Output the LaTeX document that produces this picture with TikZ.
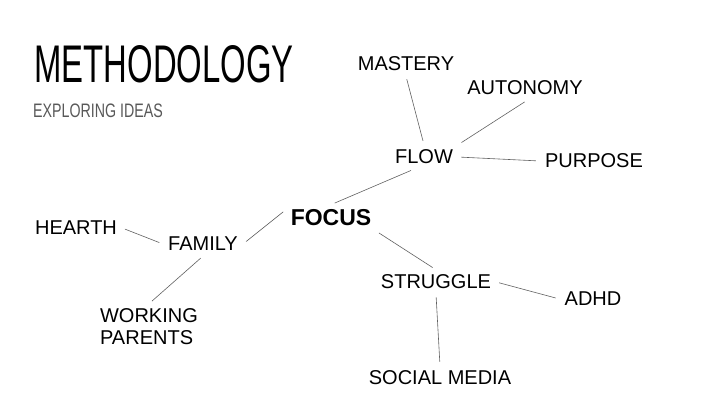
\documentclass[tikz,border=0pt]{standalone}
\usepackage{fontspec}
\setmainfont{Liberation Sans}
\usetikzlibrary{positioning}
\tikzstyle{idea} = [inner sep=5pt, font=\fontsize{20}{22}\selectfont, text=black]
\tikzstyle{core} = [inner sep=5pt, font=\fontsize{23}{26}\selectfont\bfseries, text=black]
\tikzstyle{heading} = [inner sep=0pt, font=\fontsize{53}{56}\selectfont, xscale=0.62]
\tikzstyle{subheading} = [inner sep=0pt, font=\fontsize{19.5}{22}\selectfont, text=black!65, xscale=0.73]
\tikzstyle{link} = [draw=black!62, line width=0.6pt, shorten <=3pt, shorten >=4pt]

\begin{document}
\begin{tikzpicture}[x=1pt, y=-1pt]
\useasboundingbox[fill=white] (0,0) rectangle (720,405);

\node (title) [heading] at (164,64) {METHODOLOGY};
\node (subtitle) [subheading] at (98,111) {EXPLORING IDEAS};

\node (focus) [core] at (331,218) {FOCUS};

\node (flow) [idea] at (424,157) {FLOW};
\node (mastery) [idea] at (406,64) {MASTERY};
\node (autonomy) [idea] at (525,88) {AUTONOMY};
\node (purpose) [idea] at (594,161) {PURPOSE};

\node (family) [idea] at (203,244) {FAMILY};
\node (hearth) [idea] at (76,228) {HEARTH};
\node (working) [idea, align=left] at (149,327) {WORKING\\PARENTS};

\node (struggle) [idea] at (436,282) {STRUGGLE};
\node (adhd) [idea] at (593,299) {ADHD};
\node (social) [idea] at (440,378) {SOCIAL MEDIA};

\draw [link] (mastery.south) -- (flow.north);
\draw [link] (autonomy.-80) -- (flow.north east);
\draw [link] (flow.east) -- (purpose.west);
\draw [link] (flow.230) -- (focus.north);
\draw [link] (focus.170) -- (family.east);
\draw [link] (hearth.east) -- (family.west);
\draw [link] (family.south) -- (working.north);
\draw [link] (focus.south east) -- (struggle.north);
\draw [link] (struggle.east) -- (adhd.west);
\draw [link] (struggle.south) -- (social.north);
\end{tikzpicture}
\end{document}
